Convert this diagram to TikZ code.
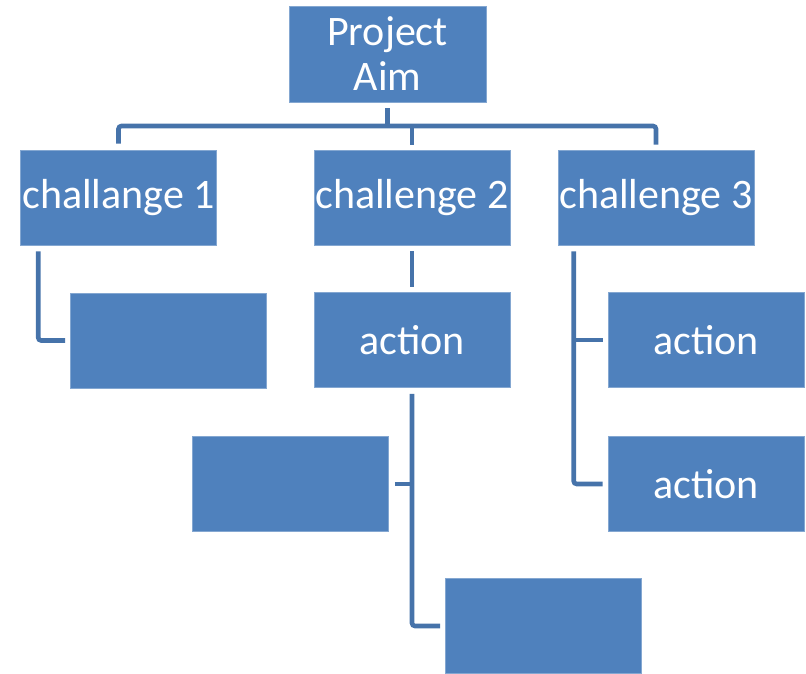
\documentclass[tikz,border=0pt]{standalone}
\usepackage{fontspec}
\setmainfont{Carlito}
\definecolor{boxblue}{HTML}{4F81BD}
\definecolor{linkblue}{HTML}{4673AA}
\begin{document}
\begin{tikzpicture}[x=1pt,y=-1pt,
  card/.style={rectangle, fill=boxblue, draw=boxblue!70!white, line width=0.6pt,
    minimum width=196pt, minimum height=95pt, inner sep=0pt, text=white,
    align=center, font=\fontsize{42}{45}\selectfont},
  link/.style={draw=linkblue, line width=4.6pt, rounded corners=3pt,
    shorten <=6pt, shorten >=5pt},
  linkin/.style={draw=linkblue, line width=4.6pt, shorten >=5pt},
  linkout/.style={draw=linkblue, line width=4.6pt, shorten <=6pt}]
\useasboundingbox (0,0) rectangle (806,673);

% boxes
\node[card, minimum width=197pt, minimum height=96pt] (aim) at (387.5,54) {Project\\Aim};
\node[card] (c1) at (118.5,197.5) {challange 1};
\node[card] (c2) at (412,197.5) {challenge 2};
\node[card] (c3) at (656,197.5) {challenge 3};
\node[card] (e1) at (168.5,340.5) {};
\node[card] (a2) at (412,340) {action};
\node[card] (e2) at (290.5,484) {};
\node[card] (e3) at (543.5,626) {};
\node[card] (a3a) at (706,340) {action};
\node[card] (a3b) at (706,484) {action};

% top-level bus
\coordinate (bus) at (387.5,126);
\draw[linkout] (aim.south) -- (bus);
\draw[link] (c1.north) |- (c3.north |- bus) -- (c3.north);
\draw[linkin] (c2.north |- bus) -- (c2.north);

% challenge 1
\draw[link] ([xshift=18pt]c1.south west) |- (e1.west);

% challenge 2
\draw[link] (c2.south) -- (a2.north);
\draw[link] (a2.south) |- (e3.west);
\draw[linkout] (e2.east) -- (a2.south |- e2.east);

% challenge 3
\draw[link] ([xshift=16pt]c3.south west) |- (a3b.west);
\draw[linkin] ([xshift=16pt]c3.south west |- a3a.west) -- (a3a.west);
\end{tikzpicture}
\end{document}
